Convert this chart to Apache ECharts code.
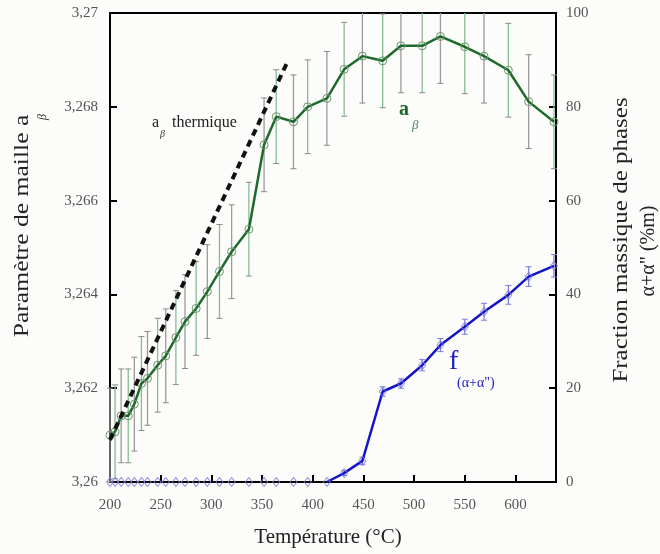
<!DOCTYPE html>
<html>
<head>
<meta charset="utf-8">
<script src="https://cdn.jsdelivr.net/npm/echarts@6/dist/echarts.min.js"></script>
<style>
html, body { margin: 0; padding: 0; background: #fcfcfa; }
#main { width: 660px; height: 554px; }
</style>
</head>
<body>
<div id="main"></div>
<script>
// temperatures (°C), shared by both series
var temps = [200, 205, 211, 218, 224, 231, 237, 247, 255, 265, 274, 285, 296, 308, 320, 337,
             352, 364, 381, 395, 414, 431, 449, 469, 487, 508, 526, 550, 569, 593, 613, 638];
// lattice parameter a_beta and its error
var aBeta = [3.2610, 3.26107, 3.26141, 3.26141, 3.26166, 3.26210, 3.26221, 3.26249, 3.26269, 3.26308,
             3.26342, 3.26370, 3.26406, 3.26449, 3.26491, 3.26539, 3.26719, 3.26779, 3.26768, 3.26800,
             3.26818, 3.26880, 3.26908, 3.26898, 3.26930, 3.26930, 3.26950, 3.26928, 3.26908, 3.26878,
             3.26811, 3.26768];
var aErr = [0.001, 0.001, 0.001, 0.001, 0.001, 0.001, 0.001, 0.001, 0.001, 0.001, 0.001, 0.001,
            0.001, 0.001, 0.001, 0.001, 0.001, 0.001, 0.001, 0.001, 0.001, 0.001, 0.001, 0.001,
            0.001, 0.001, 0.001, 0.001, 0.001, 0.001, 0.001, 0.001];
// mass fraction of alpha + alpha'' (%m) and its error
var frac = [0, 0, 0, 0, 0, 0, 0, 0, 0, 0, 0, 0, 0, 0, 0, 0, 0, 0, 0, 0, 0,
            1.9, 4.5, 19.3, 21.0, 24.9, 29.2, 33.1, 36.3, 39.9, 43.8, 46.1];
var fracErr = [0, 0, 0, 0, 0, 0, 0, 0, 0, 0, 0, 0, 0, 0, 0, 0, 0, 0, 0, 0, 0,
               0.5, 0.8, 1.0, 1.0, 1.2, 1.4, 1.6, 1.8, 2.0, 2.1, 2.4];
// thermal expansion line
var thermT = [200, 376];
var thermA = [3.2609, 3.2690];

var xTicks = [200, 250, 300, 350, 400, 450, 500, 550, 600];

var serif = '"Liberation Serif", "DejaVu Serif", serif';

function errBars(colors, capColor, capHalf, width) {
    return function (params, api) {
        var x = api.value(0), lo = api.value(1), hi = api.value(2);
        if (hi === lo) return;
        var cs = params.coordSys;
        var pHi = api.coord([x, hi]), pLo = api.coord([x, lo]);
        var yTop = Math.max(pHi[1], cs.y);
        var yBot = Math.min(pLo[1], cs.y + cs.height);
        var color = colors[params.dataIndex % colors.length];
        var kids = [{
            type: 'line',
            shape: {x1: pHi[0], y1: yTop, x2: pHi[0], y2: yBot},
            style: {stroke: color, lineWidth: width}
        }];
        if (pHi[1] >= cs.y) {
            kids.push({type: 'line', shape: {x1: pHi[0] - capHalf, y1: pHi[1], x2: pHi[0] + capHalf, y2: pHi[1]},
                style: {stroke: capColor, lineWidth: 1}});
        }
        if (pLo[1] <= cs.y + cs.height) {
            kids.push({type: 'line', shape: {x1: pLo[0] - capHalf, y1: pLo[1], x2: pLo[0] + capHalf, y2: pLo[1]},
                style: {stroke: capColor, lineWidth: 1}});
        }
        return {type: 'group', children: kids};
    };
}

var aData = [], aErrData = [], fData = [], fLine = [], fErrData = [], thermData = [];
for (var i = 0; i < temps.length; i++) {
    aData.push([temps[i], aBeta[i]]);
    aErrData.push([temps[i], aBeta[i] - aErr[i], aBeta[i] + aErr[i]]);
    fData.push([temps[i], frac[i]]);
    fErrData.push([temps[i], frac[i] - fracErr[i], frac[i] + fracErr[i]]);
    // the blue line only starts at the last zero point
    if (frac[i] > 0 || (i + 1 < frac.length && frac[i + 1] > 0)) fLine.push([temps[i], frac[i]]);
}
for (var j = 0; j < thermT.length; j++) thermData.push([thermT[j], thermA[j]]);

var myChart = echarts.init(document.getElementById('main'));

myChart.setOption({
    backgroundColor: '#fcfcfa',
    animation: false,
    grid: {
        left: 110, right: 104, top: 13, bottom: 72,
        show: true, borderColor: '#000', borderWidth: 2, backgroundColor: 'transparent'
    },
    xAxis: {
        type: 'value', min: 200, max: 640, interval: 50,
        axisLine: {lineStyle: {color: '#000', width: 2}},
        axisTick: {inside: true, length: 7, lineStyle: {color: '#000', width: 2}},
        axisLabel: {
            margin: 16, color: '#555', fontFamily: serif, fontSize: 15, showMaxLabel: false,
            formatter: function (v) { return xTicks.indexOf(v) >= 0 ? String(v) : ''; }
        },
        splitLine: {show: false}
    },
    yAxis: [{
        type: 'value', min: 3.26, max: 3.27, interval: 0.002,
        axisLine: {lineStyle: {color: '#000', width: 2}},
        axisTick: {inside: true, length: 7, lineStyle: {color: '#000', width: 2}},
        axisLabel: {
            margin: 12, color: '#555', fontFamily: serif, fontSize: 15,
            formatter: function (v) { return String(+v.toFixed(3)).replace('.', ','); }
        },
        splitLine: {show: false}
    }, {
        type: 'value', min: 0, max: 100, interval: 20, position: 'right',
        axisLine: {show: true, lineStyle: {color: '#000', width: 2}},
        axisTick: {inside: true, length: 7, lineStyle: {color: '#000', width: 2}},
        axisLabel: {margin: 10, color: '#555', fontFamily: serif, fontSize: 15},
        splitLine: {show: false}
    }],
    series: [{
        type: 'custom', name: 'aErr', yAxisIndex: 0, z: 1,
        renderItem: errBars(['#9a9a9a', '#86bd95'], '#8a8a8a', 3, 1.3),
        encode: {x: 0, y: [1, 2]},
        data: aErrData
    }, {
        type: 'custom', name: 'fErr', yAxisIndex: 1, z: 1,
        renderItem: errBars(['#7c7cdc'], '#7c7cdc', 3, 1.2),
        encode: {x: 0, y: [1, 2]},
        data: fErrData
    }, {
        type: 'line', name: 'a_beta', yAxisIndex: 0, z: 3,
        data: aData,
        symbol: 'circle', symbolSize: 8,
        itemStyle: {color: 'rgba(0,0,0,0)', borderColor: '#6f936f', borderWidth: 1},
        lineStyle: {color: '#1d6a2c', width: 2.5}
    }, {
        type: 'line', name: 'f', yAxisIndex: 1, z: 3,
        data: fLine, showSymbol: false,
        lineStyle: {color: '#1515c8', width: 2.5}
    }, {
        type: 'scatter', name: 'fpts', yAxisIndex: 1, z: 4,
        data: fData,
        symbol: 'diamond', symbolSize: [7, 9],
        itemStyle: {color: 'rgba(0,0,0,0)', borderColor: '#7b7bd8', borderWidth: 1}
    }, {
        type: 'line', name: 'thermique', yAxisIndex: 0, z: 5,
        data: thermData, showSymbol: false,
        lineStyle: {color: '#111', width: 4, type: [7, 5]}
    }],
    graphic: [
        // left axis title (picture is stretched vertically, hence scaleX on rotated text)
        {type: 'text', x: 22, y: 226, rotation: Math.PI / 2, scaleX: 1.22,
            style: {text: 'Paramètre de maille a', font: '21px ' + serif, fill: '#222', align: 'center', verticalAlign: 'middle'}},
        {type: 'text', x: 43, y: 117, rotation: Math.PI / 2,
            style: {text: 'β', font: 'italic 12px ' + serif, fill: '#333', align: 'center', verticalAlign: 'middle'}},
        // right axis title
        {type: 'text', x: 621, y: 240, rotation: Math.PI / 2, scaleX: 1.19,
            style: {text: 'Fraction massique de phases', font: '21px ' + serif, fill: '#222', align: 'center', verticalAlign: 'middle'}},
        {type: 'text', x: 649, y: 251, rotation: Math.PI / 2,
            style: {text: 'α+α" (%m)', font: '20px ' + serif, fill: '#222', align: 'center', verticalAlign: 'middle'}},
        // x axis title
        {type: 'text', x: 328, y: 537,
            style: {text: 'Température (°C)', font: '21px ' + serif, fill: '#222', align: 'center', verticalAlign: 'middle'}},
        // a_beta thermique
        {type: 'text', x: 152, y: 123,
            style: {text: 'a', font: '16px ' + serif, fill: '#222', align: 'left', verticalAlign: 'middle'}},
        {type: 'text', x: 160, y: 134,
            style: {text: 'β', font: 'italic 10px ' + serif, fill: '#333', align: 'left', verticalAlign: 'middle'}},
        {type: 'text', x: 172, y: 123,
            style: {text: 'thermique', font: '16px ' + serif, fill: '#222', align: 'left', verticalAlign: 'middle'}},
        // a_beta green
        {type: 'text', x: 399, y: 110,
            style: {text: 'a', font: 'bold 20px ' + serif, fill: '#1d6a2c', align: 'left', verticalAlign: 'middle'}},
        {type: 'text', x: 412, y: 126,
            style: {text: 'β', font: 'italic 13px ' + serif, fill: '#4a7a55', align: 'left', verticalAlign: 'middle'}},
        // f_(alpha+alpha'') blue
        {type: 'text', x: 449, y: 362,
            style: {text: 'f', font: '28px ' + serif, fill: '#2020c0', align: 'left', verticalAlign: 'middle'}},
        {type: 'text', x: 457, y: 383,
            style: {text: '(α+α")', font: '14px ' + serif, fill: '#2020c0', align: 'left', verticalAlign: 'middle'}}
    ]
});
</script>
</body>
</html>
